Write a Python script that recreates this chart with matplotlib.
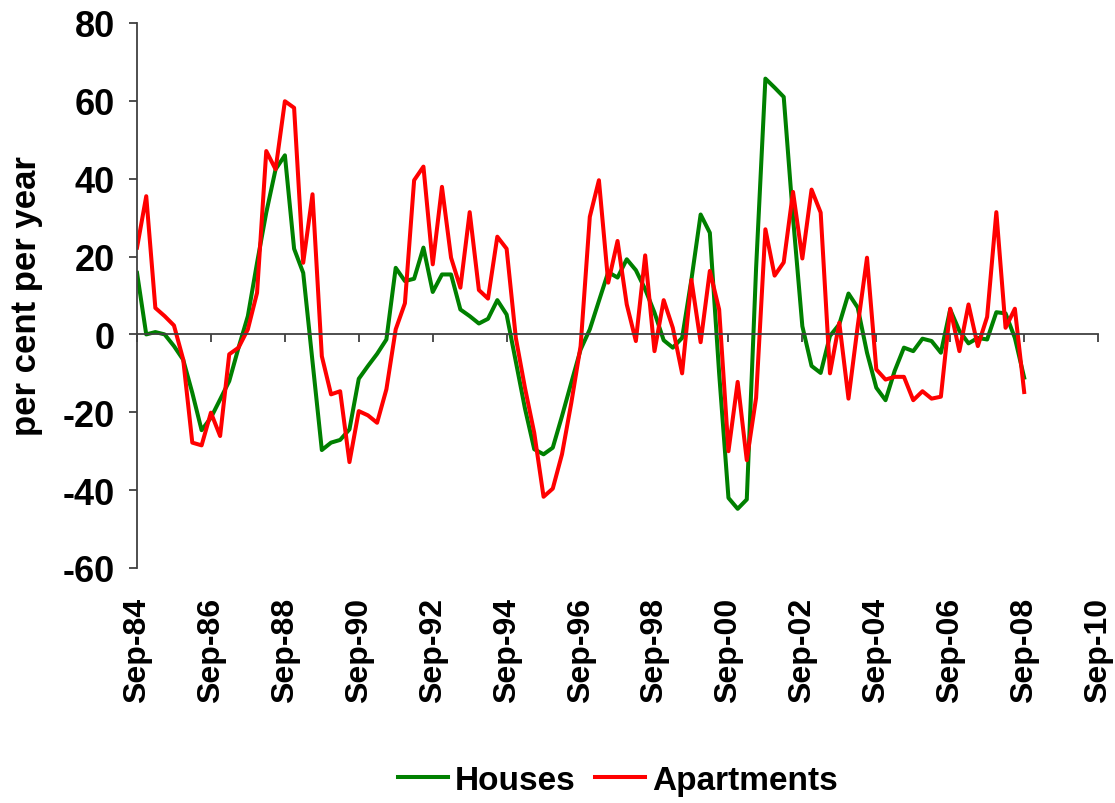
import pandas as pd
import matplotlib
matplotlib.use('Agg')
import matplotlib.pyplot as plt
import matplotlib.dates as mdates

plt.rcParams['font.family'] = ['Liberation Sans', 'DejaVu Sans']
plt.rcParams['font.weight'] = 'bold'

# Quarterly growth, per cent per year, Sep-84 .. Sep-08
quarters = pd.date_range('1984-09-01', '2008-09-01', freq='3MS')

houses = [15.8, 0.0, 0.6, 0.0, -3.0, -6.5, -15.0, -24.6, -21.4, -16.7,
          -12.0, -3.4, 4.7, 18.4, 31.3, 42.4, 46.0, 22.0, 15.8, -7.0,
          -29.7, -27.8, -27.1, -24.4, -11.4, -8.1, -5.0, -1.3, 17.1, 13.7,
          14.3, 22.3, 10.9, 15.4, 15.4, 6.4, 4.7, 2.8, 4.0, 8.8,
          5.1, -7.0, -19.0, -29.5, -30.8, -29.1, -21.0, -12.4, -3.9, 1.3,
          8.6, 16.0, 14.6, 19.3, 16.5, 11.6, 5.6, -1.5, -3.4, -0.9,
          14.1, 30.8, 26.1, -10.0, -42.0, -44.8, -42.4, 17.0, 65.7, 63.4,
          61.0, 30.0, 2.1, -8.1, -9.9, -0.4, 2.6, 10.5, 6.9, -4.7,
          -13.7, -16.9, -9.4, -3.4, -4.3, -1.1, -1.7, -4.7, 6.4, 0.9,
          -2.3, -0.9, -1.3, 5.7, 5.4, -0.9, -11.1]

apartments = [22.3, 35.5, 6.8, 4.7, 2.3, -6.4, -27.8, -28.5, -20.1, -26.1,
              -5.1, -3.4, 1.3, 10.7, 47.1, 42.4, 59.9, 58.2, 18.4, 36.0,
              -5.6, -15.4, -14.6, -32.8, -19.7, -20.8, -22.7, -14.1, 1.3, 8.0,
              39.6, 43.1, 18.0, 37.9, 19.7, 12.0, 31.4, 11.4, 9.2, 25.1,
              22.0, -0.9, -13.7, -25.3, -41.7, -39.6, -30.8, -17.6, -3.0, 30.2,
              39.6, 13.3, 24.0, 7.7, -1.7, 20.3, -4.3, 8.8, 1.7, -10.0,
              14.0, -2.0, 16.3, 6.4, -30.0, -12.2, -32.3, -16.3, 27.0, 15.1,
              18.5, 36.6, 19.5, 37.2, 31.3, -10.0, 3.0, -16.5, 2.1, 19.7,
              -9.0, -11.6, -10.9, -10.9, -16.9, -14.6, -16.5, -16.0, 6.6, -4.3,
              7.7, -3.0, 4.5, 31.4, 1.7, 6.6, -14.8]

tick_dates = pd.date_range('1984-09-01', '2010-09-01', freq='24MS')
tick_labels = [d.strftime('%b-%y') for d in tick_dates]
y_ticks = [-60, -40, -20, 0, 20, 40, 60, 80]

x = mdates.date2num(quarters)
xt = mdates.date2num(tick_dates)

fig = plt.figure(figsize=(11.15, 8.04), dpi=100)
ax = fig.add_axes([0.1229, 0.2923, 0.8619, 0.6779])

ax.plot(x, houses, color='#008000', linewidth=2.9, label='Houses')
ax.plot(x, apartments, color='#FF0000', linewidth=2.9, label='Apartments')

ax.set_xlim(xt[0], xt[-1])
ax.set_ylim(-60, 80)
ax.set_yticks(y_ticks)
ax.set_yticklabels([str(v) for v in y_ticks], fontsize=26, fontweight='bold')
ax.set_ylabel('per cent per year', fontsize=25, fontweight='bold', labelpad=14)

# x axis line drawn through zero, labels kept at the bottom
for s in ['top', 'right']:
    ax.spines[s].set_visible(False)
ax.spines['bottom'].set_position(('data', 0))
ax.spines['bottom'].set_color('#404040')
ax.spines['left'].set_color('#404040')
ax.spines['bottom'].set_linewidth(1.3)
ax.spines['left'].set_linewidth(1.3)
ax.set_xticks(xt)
ax.tick_params(axis='x', direction='out', length=6, width=1.3,
               color='#404040', labelbottom=False)
ax.tick_params(axis='y', direction='out', length=6, width=1.3,
               color='#404040', pad=10)

sec = ax.secondary_xaxis('bottom')
sec.set_xticks(xt)
sec.set_xticklabels(tick_labels, rotation=90, fontsize=23, fontweight='bold')
sec.spines['bottom'].set_visible(False)
sec.tick_params(axis='x', length=0, pad=21)

ax.legend(loc='center', bbox_to_anchor=(0.5, -0.39), ncol=2, frameon=False,
          handlelength=1.5, handletextpad=0.2, columnspacing=0.6,
          prop={'weight': 'bold', 'size': 24})

fig.savefig('out.png', dpi=100)
